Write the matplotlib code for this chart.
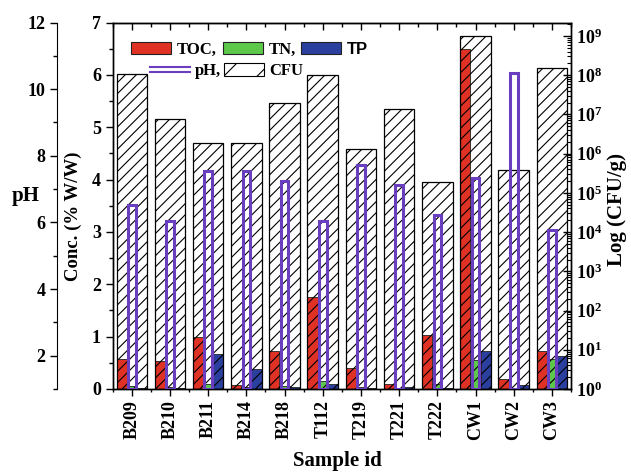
import numpy as np
import matplotlib
matplotlib.use("Agg")
import matplotlib.pyplot as plt
from matplotlib.patches import Patch
from matplotlib.lines import Line2D
from matplotlib.legend_handler import HandlerBase
from matplotlib.ticker import MultipleLocator, FixedLocator, LogLocator, NullFormatter

plt.rcParams['font.family'] = ['Liberation Serif', 'DejaVu Serif']
plt.rcParams['font.weight'] = 'bold'
plt.rcParams['mathtext.fontset'] = 'custom'
plt.rcParams['mathtext.rm'] = 'Liberation Serif:bold'
plt.rcParams['mathtext.it'] = 'Liberation Serif:bold'
plt.rcParams['mathtext.bf'] = 'Liberation Serif:bold'
plt.rcParams['hatch.linewidth'] = 0.8

samples = ['B209', 'B210', 'B211', 'B214', 'B218', 'T112', 'T219', 'T221',
           'T222', 'CW1', 'CW2', 'CW3']
toc = [0.58, 0.53, 1.00, 0.07, 0.72, 1.76, 0.40, 0.10, 1.03, 6.50, 0.20, 0.73]
tn = [0.05, 0.04, 0.10, 0.03, 0.05, 0.15, 0.04, 0.02, 0.10, 0.55, 0.01, 0.57]
tp = [0.01, 0.01, 0.67, 0.39, 0.03, 0.10, 0.01, 0.03, 0.01, 0.72, 0.08, 0.63]
ph = [6.53, 6.03, 7.53, 7.53, 7.23, 6.03, 7.73, 7.13, 6.23, 7.33, 10.47, 5.78]
cfu = [1.07e8, 7.7e6, 1.9e6, 1.9e6, 1.9e7, 1.0e8, 1.3e6, 1.4e7, 1.9e5,
       1.0e9, 3.9e5, 1.5e8]

c_toc = '#E03224'
c_tn = '#5DC94B'
c_tp = '#2B3F9E'
c_ph = '#6A3FBF'

fig = plt.figure(figsize=(6.31, 4.73), dpi=100)
ax = fig.add_axes([0.1786, 0.1776, 0.7264, 0.7748])
ax_cfu = ax.twinx()
ax_ph = ax.twinx()

x = np.arange(len(samples))
w = 0.8 / 3

ax.bar(x - w, toc, w, color=c_toc, edgecolor='#222222', linewidth=0.6)
ax.bar(x, tn, w, color=c_tn, edgecolor='#222222', linewidth=0.6)
ax.bar(x + w, tp, w, color=c_tp, edgecolor='#222222', linewidth=0.6)
ax.set_ylim(0, 7)
ax.set_xlim(-0.5, len(samples) - 0.5)

# CFU hatched bars on log axis
cfu_h = [v - 1 for v in cfu]
ax_cfu.bar(x, cfu_h, 0.8, bottom=1, facecolor='none', edgecolor='black',
           hatch='///', linewidth=0.9)
ax_cfu.set_yscale('log')
ax_cfu.set_ylim(1, 2.2e9)

# pH hollow bars
ph_h = [v - 1 for v in ph]
ax_ph.bar(x, ph_h, 0.2, bottom=1, facecolor='none', edgecolor=c_ph, linewidth=2.2)
ax_ph.set_ylim(1, 12)
ax_ph.spines['left'].set_visible(True)
ax_ph.spines['left'].set_position(('outward', 40))
ax_ph.spines['right'].set_visible(False)
ax_ph.yaxis.set_ticks_position('left')
ax_ph.yaxis.set_label_position('left')
ax_ph.yaxis.set_major_locator(FixedLocator([2, 4, 6, 8, 10, 12]))
ax_ph.yaxis.set_minor_locator(MultipleLocator(1))
ax_ph.tick_params(axis='y', which='major', direction='out', length=5, width=1, labelsize=13)
ax_ph.tick_params(axis='y', which='minor', direction='out', length=3, width=1)
for s in ['top', 'bottom']:
    ax_ph.spines[s].set_visible(False)

# conc axis ticks
ax.yaxis.set_major_locator(MultipleLocator(1))
ax.yaxis.set_minor_locator(MultipleLocator(0.5))
ax.tick_params(axis='y', which='major', direction='out', length=5, width=1, labelsize=13)
ax.tick_params(axis='y', which='minor', direction='out', length=3, width=1)

# x ticks
ax.set_xticks(x)
ax.set_xticklabels(samples, rotation=90, fontsize=13, fontweight='bold')
ax.xaxis.set_minor_locator(FixedLocator(np.arange(-0.5, len(samples), 0.5)))
ax.tick_params(axis='x', which='major', direction='out', length=5, width=1, top=False, pad=3)
ax.tick_params(axis='x', which='minor', direction='out', length=2.5, width=1, top=False)
axt = ax.secondary_xaxis('top')
axt.set_xticks(x)
axt.xaxis.set_minor_locator(FixedLocator(np.arange(-0.5, len(samples), 1.0)))
axt.tick_params(axis='x', which='major', direction='in', length=5, width=1, labeltop=False)
axt.tick_params(axis='x', which='minor', direction='in', length=3, width=1)
axt.set_xticklabels([])

# right log axis ticks
ax_cfu.yaxis.set_major_locator(LogLocator(base=10, numticks=12))
ax_cfu.yaxis.set_minor_locator(LogLocator(base=10, subs=np.arange(2, 10), numticks=12))
ax_cfu.yaxis.set_minor_formatter(NullFormatter())
ax_cfu.tick_params(axis='y', which='major', direction='in', length=6, width=1, labelsize=13)
ax_cfu.tick_params(axis='y', which='minor', direction='in', length=3, width=0.8)

for a in (ax, ax_cfu):
    for s in a.spines.values():
        s.set_linewidth(1)

# labels
fig.text(26 / 631, 1 - 196 / 473, 'pH', fontsize=15, fontweight='bold',
         ha='center', va='center')
fig.text(73 / 631, 1 - 216 / 473, 'Conc. (% W/W)', fontsize=13.5, fontweight='bold',
         ha='center', va='center', rotation=90)
fig.text(617 / 631, 1 - 210 / 473, 'Log (CFU/g)', fontsize=15, fontweight='bold',
         ha='center', va='center', rotation=90)
fig.text(337 / 631, 1 - 461 / 473, 'Sample id', fontsize=15, fontweight='bold',
         ha='center', va='center')


class DoubleLine(HandlerBase):
    def create_artists(self, legend, orig_handle, xdescent, ydescent, width,
                       height, fontsize, trans):
        yc = height / 2 - ydescent
        arts = []
        for dy in (-1.8, 1.8):
            ln = Line2D([-xdescent, width - xdescent], [yc + dy, yc + dy],
                        color=c_ph, lw=1.5, transform=trans)
            arts.append(ln)
        return arts


# legend row 1
h1 = [Patch(facecolor=c_toc, edgecolor='#222222', linewidth=0.8),
      Patch(facecolor=c_tn, edgecolor='#222222', linewidth=0.8),
      Patch(facecolor=c_tp, edgecolor='#222222', linewidth=0.8)]
leg1 = fig.legend(h1, ['TOC,', 'TN,', 'TP'], ncol=3, loc='upper left',
                  bbox_to_anchor=(131 / 631, 1 - 42 / 473),
                  bbox_transform=fig.transFigure, frameon=False,
                  prop={'size': 12, 'weight': 'bold'},
                  handlelength=2.4, handleheight=0.75, handletextpad=0.35,
                  columnspacing=0.35, borderpad=0, borderaxespad=0)
for t in leg1.get_texts():
    if t.get_text() == 'TP':
        t.set_fontfamily('Liberation Sans')

# legend row 2
ph_handle = Line2D([], [], color=c_ph)
cfu_handle = Patch(facecolor='white', edgecolor='black', hatch='/', linewidth=0.8)
leg2 = fig.legend([ph_handle, cfu_handle], ['pH,', 'CFU'], ncol=2, loc='upper left',
                  bbox_to_anchor=(150 / 631, 1 - 63 / 473),
                  bbox_transform=fig.transFigure, frameon=False,
                  prop={'size': 12, 'weight': 'bold'},
                  handlelength=2.4, handleheight=0.85, handletextpad=0.3,
                  columnspacing=0.2, borderpad=0, borderaxespad=0,
                  handler_map={ph_handle: DoubleLine()})

fig.savefig('out.png', dpi=100)
